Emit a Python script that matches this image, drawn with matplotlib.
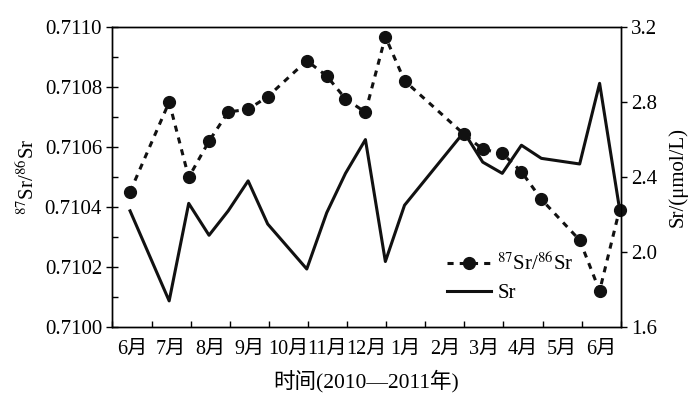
import matplotlib
matplotlib.use('Agg')
import matplotlib.pyplot as plt
from matplotlib.ticker import MultipleLocator, FormatStrFormatter

plt.rcParams['font.family'] = ['Liberation Serif', 'Noto Sans CJK SC']
plt.rcParams['mathtext.fontset'] = 'stix'

# sample positions (month index, 0 = start of June 2010)
x = [0.45, 1.45, 1.95, 2.47, 2.96, 3.47, 3.97, 4.97, 5.48, 5.96, 6.47, 6.98,
     7.47, 8.99, 9.47, 9.97, 10.46, 10.97, 11.95, 12.46, 12.97]
ratio = [0.710451, 0.710750, 0.710499, 0.710620, 0.710717, 0.710726, 0.710768,
         0.710888, 0.710837, 0.710761, 0.710716, 0.710968, 0.710821, 0.710643,
         0.710593, 0.710579, 0.710518, 0.710426, 0.710290, 0.710121, 0.710392]
sr = [2.22, 1.74, 2.26, 2.09, 2.22, 2.38, 2.15, 1.91, 2.21, 2.42, 2.60, 1.95,
      2.25, 2.64, 2.48, 2.42, 2.57, 2.50, 2.47, 2.90, 2.23]
months = ['6月', '7月', '8月', '9月', '10月', '11月', '12月', '1月', '2月',
          '3月', '4月', '5月', '6月']

fig = plt.figure(figsize=(6.93, 3.98), dpi=100)
ax = fig.add_axes([0.1623, 0.178, 0.7334, 0.754])
ax2 = ax.twinx()

c = '#111111'
l1, = ax.plot(x, ratio, color=c, lw=2.2, dashes=(2, 2), marker='o', ms=8.5,
              label='$^{87}$Sr/$^{86}$Sr', zorder=3, clip_on=False)
l2, = ax2.plot(x, sr, color=c, lw=2.2, label='Sr', zorder=2)

ax.set_xlim(0, 13)
ax.set_ylim(0.7100, 0.7110)
ax2.set_ylim(1.6, 3.2)

ax.set_xticks(range(14))
ax.set_xticklabels([])
ax.set_xticks([i + 0.5 for i in range(13)], minor=True)
ax.set_xticklabels(months, minor=True, fontsize=14.5)
ax.tick_params(axis='x', which='major', direction='in', length=4, width=1)
ax.tick_params(axis='x', which='minor', length=0, pad=9)

ax.yaxis.set_major_locator(MultipleLocator(0.0002))
ax.yaxis.set_minor_locator(MultipleLocator(0.0001))
ax.yaxis.set_major_formatter(FormatStrFormatter('%.4f'))
ax.tick_params(axis='y', which='major', direction='inout', length=8, width=1,
               labelsize=15)
ax.tick_params(axis='y', which='minor', direction='in', length=4, width=1)

ax2.yaxis.set_major_locator(MultipleLocator(0.4))
ax2.yaxis.set_major_formatter(FormatStrFormatter('%.1f'))
ax2.tick_params(axis='y', direction='out', length=4, width=1, labelsize=15)

ax.set_ylabel('$^{87}$Sr/$^{86}$Sr', fontsize=15, labelpad=4)
ax2.set_ylabel('Sr/(μmol/L)', fontsize=15, labelpad=8)
ax.set_xlabel('时间(2010—2011年)', fontsize=15.5, labelpad=8)

for a in (ax, ax2):
    for s in a.spines.values():
        s.set_linewidth(1)

ax.legend([l1, l2], ['$^{87}$Sr/$^{86}$Sr', 'Sr'], loc='center left',
          bbox_to_anchor=(0.63, 0.163), frameon=False, fontsize=15,
          handlelength=2.1, handletextpad=0.3, labelspacing=0.4,
          borderpad=0.2)

fig.savefig('out.png', dpi=100)
